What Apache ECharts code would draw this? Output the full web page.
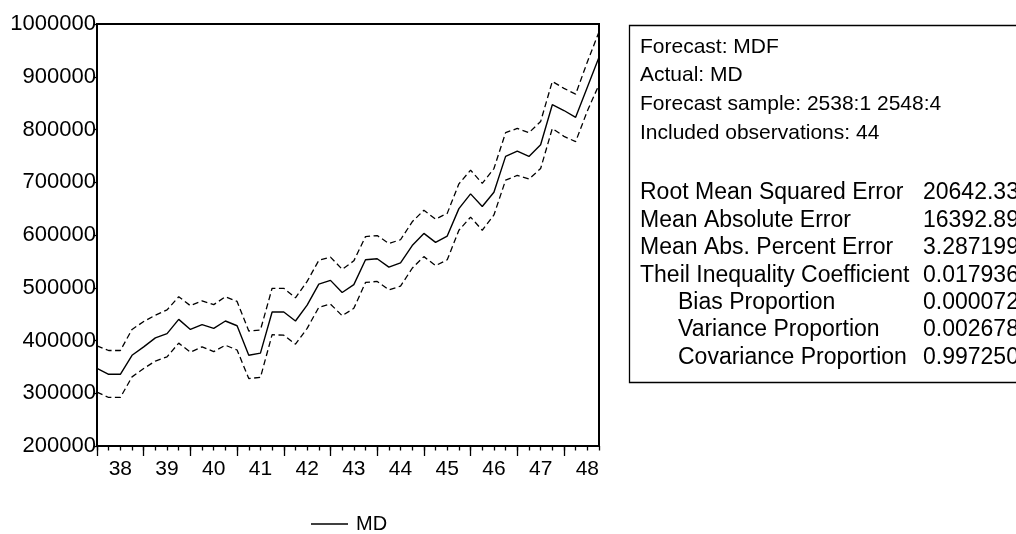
<!DOCTYPE html>
<html>
<head>
<meta charset="utf-8">
<script src="https://cdn.jsdelivr.net/npm/echarts@6/dist/echarts.min.js"></script>
<style>
html,body{margin:0;padding:0;background:#fff;}
#chart{width:1016px;height:534px;}
</style>
</head>
<body>
<div id="chart"></div>
<script>
// Categories: quarters 2538:1 .. 2548:4
const yearLabels = ['38','39','40','41','42','43','44','45','46','47','48'];
const quarters = [
 '2538:1','2538:2','2538:3','2538:4','2539:1','2539:2','2539:3','2539:4',
 '2540:1','2540:2','2540:3','2540:4','2541:1','2541:2','2541:3','2541:4',
 '2542:1','2542:2','2542:3','2542:4','2543:1','2543:2','2543:3','2543:4',
 '2544:1','2544:2','2544:3','2544:4','2545:1','2545:2','2545:3','2545:4',
 '2546:1','2546:2','2546:3','2546:4','2547:1','2547:2','2547:3','2547:4',
 '2548:1','2548:2','2548:3','2548:4'
];
// Forecast line (solid, legend "MD")
const md = [
 347000,336000,336000,372000,388000,405000,413000,440000,
 421000,430000,423000,437000,428000,372000,376000,454000,
 454000,437000,467000,507000,514000,491000,506000,553000,
 555000,539000,547000,580000,603000,586000,598000,650000,
 678000,654000,681000,749000,759000,749000,771000,847000,
 836000,823000,880000,937000
];
// Upper band (dashed)
const upper = [
 390000,381000,381000,421000,436000,448000,458000,483000,
 466000,475000,468000,483000,474000,418000,420000,499000,
 499000,481000,512000,552000,558000,535000,551000,597000,
 599000,584000,591000,625000,647000,630000,641000,697000,
 723000,698000,726000,794000,802000,794000,815000,891000,
 878000,867000,928000,985000
];
// Lower band (dashed)
const lower = [
 302000,292000,292000,331000,347000,361000,369000,395000,
 378000,388000,379000,391000,382000,328000,330000,411000,
 410000,393000,423000,463000,469000,447000,461000,510000,
 512000,496000,503000,537000,559000,542000,553000,609000,
 634000,609000,638000,704000,713000,706000,726000,802000,
 787000,777000,835000,885000
];
const headerLines = ['Forecast: MDF','Actual: MD','Forecast sample: 2538:1 2548:4','Included observations: 44'];
const statNames = ['Root Mean Squared Error','Mean Absolute Error','Mean Abs. Percent Error','Theil Inequality Coefficient','Bias Proportion','Variance Proportion','Covariance Proportion'];
const statValues = ['20642.33','16392.89','3.287199','0.017936','0.000072','0.002678','0.997250'];
const statIndent = [false,false,false,false,true,true,true];

const FONT = '"Liberation Sans", Arial, sans-serif';
const chart = echarts.init(document.getElementById('chart'), null, {renderer:'canvas'});

const graphics = [];
graphics.push({type:'rect', shape:{x:629.5,y:25.5,width:420,height:357}, style:{fill:'#fff',stroke:'#000',lineWidth:1.3}, z:1});
headerLines.forEach((t,i)=>{
  graphics.push({type:'text', x:640, y:47+i*28.7, style:{text:t, fontSize:21, fontFamily:FONT, fill:'#000', verticalAlign:'middle'}, z:2});
});
statNames.forEach((t,i)=>{
  const y = 193+i*27.4;
  graphics.push({type:'text', x: statIndent[i]?678:640, y:y, style:{text:t, fontSize:23, fontFamily:FONT, fill:'#000', verticalAlign:'middle'}, z:2});
  graphics.push({type:'text', x:923, y:y, style:{text:statValues[i], fontSize:23, fontFamily:FONT, fill:'#000', verticalAlign:'middle'}, z:2});
});

chart.setOption({
  animation:false,
  backgroundColor:'#fff',
  textStyle:{fontFamily:FONT},
  grid:{left:97, right:417, top:24, bottom:88, show:true, borderColor:'#000', borderWidth:2, containLabel:false},
  legend:{
    data:['MD'], left:311, top:514, padding:0, icon:'rect', itemWidth:37, itemHeight:1.3,
    textStyle:{fontSize:20, fontFamily:FONT, color:'#000', padding:[0,0,0,3]},
    selectedMode:false
  },
  xAxis:[
    {
      type:'category', data:quarters, boundaryGap:false, position:'bottom',
      axisLine:{show:true, lineStyle:{color:'#000', width:2}},
      axisTick:{show:true, interval:0, length:4.5, lineStyle:{color:'#000', width:1.3}},
      axisLabel:{
        show:true, interval:(idx)=>idx%4===2, margin:13,
        formatter:(v,idx)=>yearLabels[Math.floor(idx/4)],
        fontSize:21, fontFamily:FONT, color:'#000'
      },
      splitLine:{show:false}
    },
    {
      type:'category', data:quarters, boundaryGap:false, position:'bottom', offset:0,
      axisLine:{show:false},
      axisTick:{show:true, interval:(idx)=>idx%4===0, length:10, lineStyle:{color:'#000', width:1.3}},
      axisLabel:{show:false},
      splitLine:{show:false}
    }
  ],
  yAxis:{
    type:'value', min:200000, max:1000000, interval:100000,
    axisLine:{show:true, lineStyle:{color:'#000', width:2}},
    axisTick:{show:true, length:3, lineStyle:{color:'#000', width:1.3}},
    axisLabel:{fontSize:22, fontFamily:FONT, color:'#000', margin:1, padding:[0,0,6,0], formatter:(v)=>String(v)},
    splitLine:{show:false}
  },
  series:[
    {name:'MD', type:'line', data:md, symbol:'none', lineStyle:{color:'#000', width:1.4}, itemStyle:{color:'#000'}, z:3},
    {name:'Upper', type:'line', data:upper, symbol:'none', lineStyle:{color:'#000', width:1.3, type:[6,3.5]}, z:3},
    {name:'Lower', type:'line', data:lower, symbol:'none', lineStyle:{color:'#000', width:1.3, type:[6,3.5]}, z:3}
  ],
  graphic:graphics
});
</script>
</body>
</html>
